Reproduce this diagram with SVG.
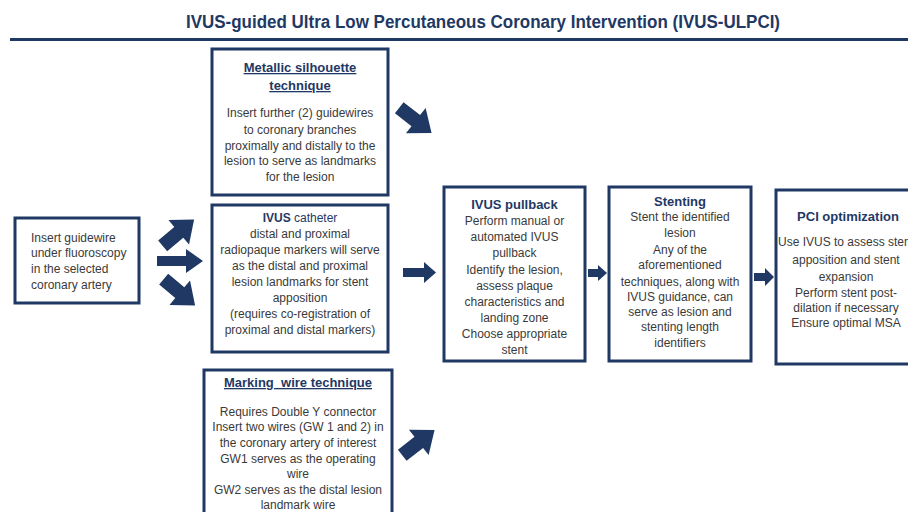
<svg xmlns="http://www.w3.org/2000/svg" xmlns:xlink="http://www.w3.org/1999/xlink" width="908" height="512" viewBox="0 0 908 512">
<style>
.box{fill:#fff;stroke:#1f3864;stroke-width:3}
.t{font-family:"Liberation Sans",Arial,sans-serif;font-size:12px;fill:#3a3a3a}
.c{text-anchor:middle}
.h{font-family:"Liberation Sans",Arial,sans-serif;font-size:13px;font-weight:bold;fill:#1f3864;text-anchor:middle}
.u{text-decoration:underline}
.arr{fill:#1f3864}
</style>
<defs>
<path id="blk" d="M-20,-7 H1 V-16 L21,0 L1,16 V7 H-20 Z"/>
</defs>
<rect width="908" height="512" fill="#fff"/>
<text x="483" y="28" text-anchor="middle" textLength="594" lengthAdjust="spacingAndGlyphs" font-family="Liberation Sans,Arial,sans-serif" font-size="17.5" font-weight="bold" fill="#1f3864">IVUS-guided Ultra Low Percutaneous Coronary Intervention (IVUS-ULPCI)</text>
<rect x="10" y="38" width="898" height="3" fill="#1f3864"/>

<g id="connectors" class="arr">
<use xlink:href="#blk" transform="translate(178,233) rotate(-40)"/>
<path d="M157,256 H186 V249 L203,261 L186,273 V266 H157 Z"/>
<use xlink:href="#blk" transform="translate(179,292) rotate(40)"/>
<use xlink:href="#blk" transform="translate(415,120) rotate(38)"/>
<use xlink:href="#blk" transform="translate(418,443) rotate(-38)"/>
<path d="M403,268 H424 V262 L436,272.5 L424,283 V277 H403 Z"/>
<path d="M588,269 H598 V265 L607,273 L598,281 V277 H588 Z"/>
<path d="M754,273 H765 V268 L774,277 L765,286 V281 H754 Z"/>
</g>

<g id="metallic">
<rect class="box" x="212" y="49" width="176" height="146"/>
<text class="h u" x="300" y="72">Metallic silhouette</text>
<text class="h u" x="300" y="90">technique</text>
<text class="t c" x="300" y="117">Insert further (2) guidewires</text>
<text class="t c" x="300" y="134">to coronary branches</text>
<text class="t c" x="300" y="150">proximally and distally to the</text>
<text class="t c" x="300" y="165">lesion to serve as landmarks</text>
<text class="t c" x="300" y="181">for the lesion</text>
</g>

<g id="guidewire">
<rect class="box" x="15" y="218" width="124" height="85"/>
<text class="t" x="31" y="242">Insert guidewire</text>
<text class="t" x="31" y="257">under fluoroscopy</text>
<text class="t" x="31" y="273">in the selected</text>
<text class="t" x="31" y="289">coronary artery</text>
</g>

<g id="ivus-catheter">
<rect class="box" x="212" y="205" width="176" height="147"/>
<text class="t c" x="300" y="222"><tspan font-weight="bold" fill="#1f3864">IVUS</tspan><tspan fill="#1f3864"> catheter</tspan></text>
<text class="t c" x="300" y="238">distal and proximal</text>
<text class="t c" x="300" y="254">radiopaque markers will serve</text>
<text class="t c" x="300" y="270">as the distal and proximal</text>
<text class="t c" x="300" y="286">lesion landmarks for stent</text>
<text class="t c" x="300" y="302">apposition</text>
<text class="t c" x="300" y="318">(requires co-registration of</text>
<text class="t c" x="300" y="334">proximal and distal markers)</text>
</g>

<g id="marking">
<rect class="box" x="204" y="370" width="188" height="150"/>
<text class="h u" x="298" y="387">Marking&#160; wire technique</text>
<text class="t c" x="298" y="416">Requires Double Y connector</text>
<text class="t c" x="298" y="431">Insert two wires (GW 1 and 2) in</text>
<text class="t c" x="298" y="447">the coronary artery of interest</text>
<text class="t c" x="298" y="463">GW1 serves as the operating</text>
<text class="t c" x="298" y="478">wire</text>
<text class="t c" x="298" y="494">GW2 serves as the distal lesion</text>
<text class="t c" x="298" y="509">landmark wire</text>
</g>

<g id="pullback">
<rect class="box" x="444" y="187" width="141" height="174"/>
<text class="h" x="514.5" y="209">IVUS pullback</text>
<text class="t c" x="514.5" y="225">Perform manual or</text>
<text class="t c" x="514.5" y="241">automated IVUS</text>
<text class="t c" x="514.5" y="257">pullback</text>
<text class="t c" x="514.5" y="274">Identify the lesion,</text>
<text class="t c" x="514.5" y="290">assess plaque</text>
<text class="t c" x="514.5" y="306">characteristics and</text>
<text class="t c" x="514.5" y="322">landing zone</text>
<text class="t c" x="514.5" y="338">Choose appropriate</text>
<text class="t c" x="514.5" y="354">stent</text>
</g>

<g id="stenting">
<rect class="box" x="609" y="187" width="142" height="174"/>
<text class="h" x="680" y="206">Stenting</text>
<text class="t c" x="680" y="221">Stent the identified</text>
<text class="t c" x="680" y="237">lesion</text>
<text class="t c" x="680" y="254">Any of the</text>
<text class="t c" x="680" y="269">aforementioned</text>
<text class="t c" x="680" y="286">techniques, along with</text>
<text class="t c" x="680" y="301">IVUS guidance, can</text>
<text class="t c" x="680" y="316">serve as lesion and</text>
<text class="t c" x="680" y="331">stenting length</text>
<text class="t c" x="680" y="347">identifiers</text>
</g>

<g id="pci">
<rect class="box" x="776" y="190" width="150" height="174"/>
<text class="h" x="848" y="221" font-size="13.5">PCI optimization</text>
<text class="t c" x="846" y="246">Use IVUS to assess stent</text>
<text class="t c" x="846" y="264">apposition and stent</text>
<text class="t c" x="846" y="281">expansion</text>
<text class="t c" x="846" y="297">Perform stent post-</text>
<text class="t c" x="846" y="312">dilation if necessary</text>
<text class="t c" x="846" y="327">Ensure optimal MSA</text>
</g>
</svg>
